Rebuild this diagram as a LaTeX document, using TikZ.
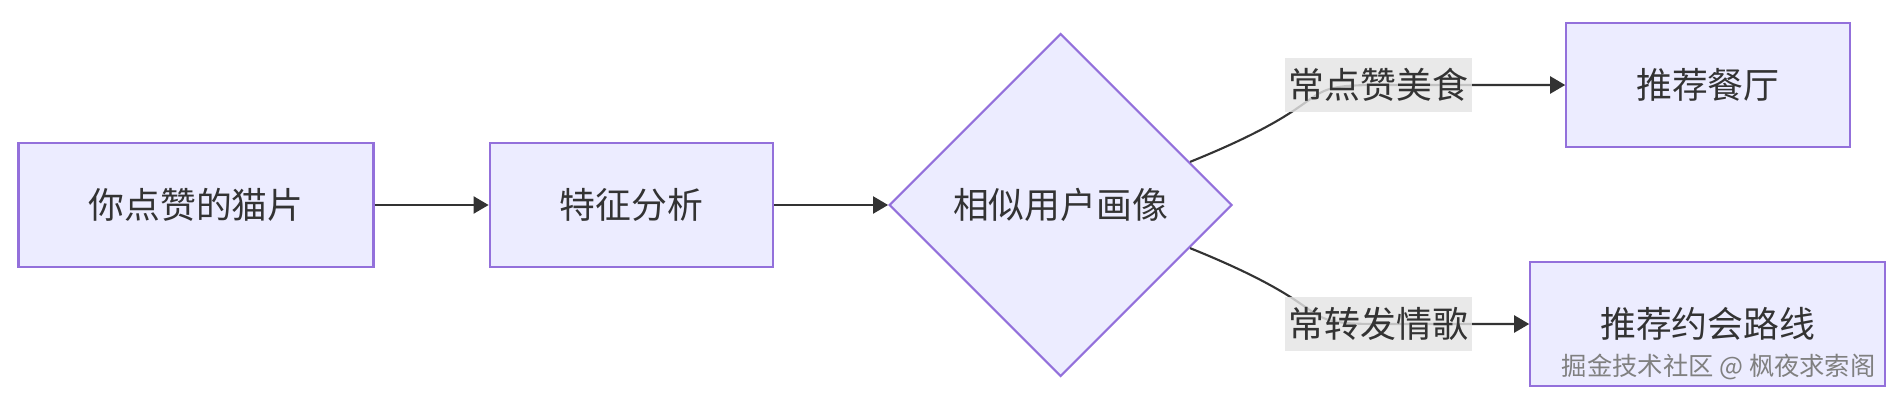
\documentclass[tikz,border=0pt]{standalone}
\usepackage{fontspec}
\usepackage{xcolor}
\usepackage{tikz}
\usetikzlibrary{positioning, arrows.meta, shapes.geometric, calc}
\newfontfamily\cjk{Noto Sans CJK SC}
\definecolor{boxfill}{HTML}{ECECFF}
\definecolor{boxline}{HTML}{9370DB}
\definecolor{ink}{HTML}{333333}
\definecolor{labelbg}{HTML}{E8E8E8}
\tikzset{
  stepbox/.style  = {rectangle, draw=boxline, line width=0.6pt, fill=boxfill,
                     inner xsep=0.7cm, minimum height=1.24cm, text=ink,
                     font={\cjk\fontsize{10.2}{12}\selectfont}},
  decision/.style = {diamond, draw=boxline, line width=0.6pt, fill=boxfill,
                     aspect=1, inner sep=0pt, minimum width=3.43cm,
                     minimum height=3.43cm, text=ink,
                     font={\cjk\fontsize{10.2}{12}\selectfont}},
  edgelabel/.style= {rectangle, fill=labelbg, fill opacity=0.8, text opacity=1,
                     inner xsep=1pt, inner ysep=3pt, text=ink,
                     font={\cjk\fontsize{10.2}{12}\selectfont}},
  arr/.style      = {-{Triangle[length=1.5mm,width=1.7mm]}, line width=0.6pt, draw=ink},
}

\begin{document}
\begin{tikzpicture}[node distance=1.14cm]

  \useasboundingbox (0,0) rectangle (19.02,-4.07);

  \node[stepbox] (cat) at (1.96,-2.05) {你点赞的猫片};
  \node[stepbox, right=of cat] (feat) {特征分析};
  \node[decision, right=of feat] (sim) {相似用户画像};

  \node[stepbox, right=3.32cm of sim, yshift=1.2cm] (food) {推荐餐厅};
  \node[stepbox, right=2.96cm of sim, yshift=-1.19cm] (date) {推荐约会路线};

  \node[edgelabel, left=0.93cm of food] (likefood) {常点赞美食};
  \node[edgelabel, left=0.57cm of date] (sharesong) {常转发情歌};

  \coordinate (up) at ($(sim.east)!0.25!(sim.north)$);
  \coordinate (down) at ($(sim.east)!0.25!(sim.south)$);

  \draw[arr] (cat) -- (feat);
  \draw[arr] (feat) -- (sim);
  \draw[arr] (up) .. controls +(22:1.7cm) and +(-0.9,0) .. (likefood.center) -- (food.west);
  \draw[arr] (down) .. controls +(-22:1.7cm) and +(-0.9,0) .. (sharesong.center) -- (date.west);

  % labels again on top of the curves
  \node[edgelabel] at (likefood) {常点赞美食};
  \node[edgelabel] at (sharesong) {常转发情歌};

  \node[text=gray, font={\cjk\fontsize{7.2}{8}\selectfont}, anchor=south east]
       (mark) at (18.88,-3.92) {掘金技术社区 @ 枫夜求索阁};

\end{tikzpicture}
\end{document}
